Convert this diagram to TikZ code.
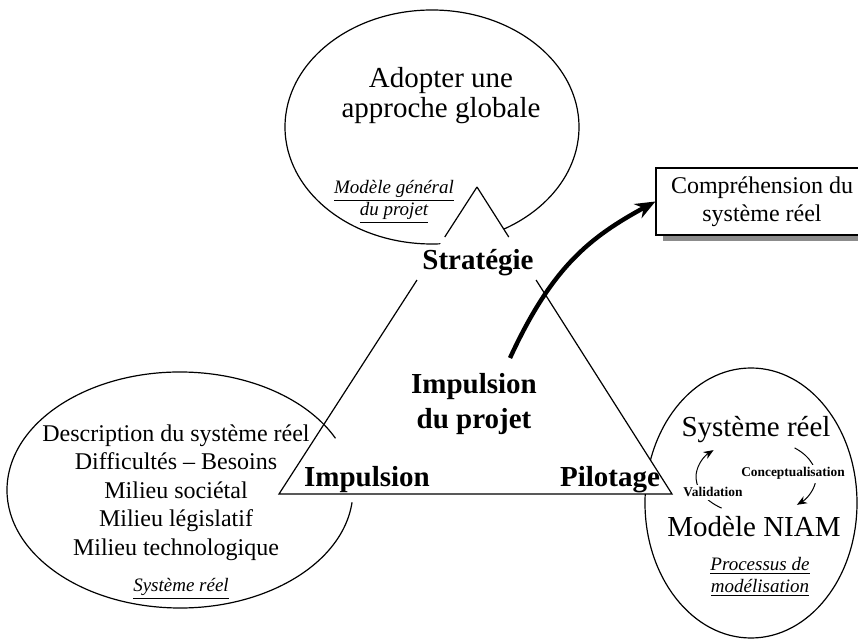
\documentclass[tikz,border=0pt]{standalone}
\usepackage{fontspec}
\setmainfont{Liberation Serif}
\usetikzlibrary{calc}
\usetikzlibrary{arrows.meta}
\usetikzlibrary{shadows}
\tikzset{
  bubble/.style={draw, line width=0.6pt},
  side/.style={line width=0.6pt},
  bigtxt/.style={font=\fontsize{14.5}{15}\selectfont, align=center, inner sep=0pt},
  listtxt/.style={font=\fontsize{12}{14.3}\selectfont, align=center, inner sep=0pt},
  pole/.style={font=\fontsize{14.5}{17.5}\selectfont\bfseries, align=center, inner sep=0pt},
  legend/.style={font=\fontsize{9.5}{11}\selectfont\itshape, align=center, inner sep=0pt},
  cyclbl/.style={font=\fontsize{6.7}{8}\selectfont\bfseries, fill=white, inner sep=1.5pt},
  cycarrow/.style={-{Stealth[length=5pt,width=4pt]}, line width=0.5pt},
  bigarrow/.style={-{Stealth[length=10pt,width=8pt]}, line width=2.2pt},
  resultbox/.style={draw, line width=0.6pt, fill=white, minimum width=106pt, minimum height=33.5pt,
    inner sep=0pt, align=center, font=\fontsize{12}{14}\selectfont,
    drop shadow={shadow xshift=3.5pt, shadow yshift=-3pt, fill=black!45, opacity=1}}
}

\begin{document}
\begin{tikzpicture}[x=0.5pt, y=-0.5pt]
	\useasboundingbox (0,0) rectangle (858,641);
	\clip (0,0) rectangle (858,641);
	\draw[bubble] (432,127) ellipse [x radius=147, y radius=117];
	\draw[bubble] (751,503) ellipse [x radius=106, y radius=135];
	\coordinate (apex) at (477,187);
	\coordinate (lc) at (279,494);
	\coordinate (rc) at (672,494);
	\fill[white] (apex) -- (lc) -- (rc) -- cycle;
	\draw[side] (apex) -- ($(apex)!0.163!(lc)$);
	\draw[side] ($(apex)!0.303!(lc)$) -- (lc) -- (rc) -- ($(apex)!0.303!(rc)$);
	\draw[side] ($(apex)!0.163!(rc)$) -- (apex);
	\draw[bubble] (180,490) ++(6:173 and 118) arc [start angle=6, end angle=334, x radius=173, y radius=118];
	\node[bigtxt, anchor=north] (goal) at (441,67) {Adopter une\\approche globale};
	\node[legend, anchor=north] (modgen) at (394,180) {\underline{Modèle général}\\\underline{du projet}};
	\node[pole, anchor=base] (strat) at (478,270) {Stratégie};
	\node[pole, anchor=north] (proj) at (474,373) {Impulsion\\du projet};
	\node[pole, anchor=base] (imp) at (367,487) {Impulsion};
	\node[pole, anchor=base] (pil) at (610,487) {Pilotage};
	\node[listtxt, anchor=north] (desc) at (176,424) {Description du système réel\\Difficultés -- Besoins\\Milieu sociétal\\Milieu législatif\\Milieu technologique};
	\node[legend, anchor=base] (sysleg) at (181,592) {\underline{Système réel}};
	\node[resultbox] (box) at (762,201.5) {Compréhension du\\système réel};
	\node[bigtxt, anchor=base] (sysr) at (756,437) {Système réel};
	\node[bigtxt, anchor=base] (niam) at (754,537) {Modèle NIAM};
	\draw[cycarrow] ($(sysr.base)+(38.6,10.9)$) arc [start angle=-50, end angle=47, x radius=60, y radius=38];
	\draw[cycarrow] ($(niam.base)+(-32.4,-28.9)$) arc [start angle=125, end angle=225, x radius=60, y radius=38];
	\node[cyclbl, anchor=base] (concept) at (793,477) {Conceptualisation};
	\node[cyclbl, anchor=base] (valid) at (713,497) {Validation};
	\node[legend, anchor=north] (procleg) at (760,557) {\underline{Processus de}\\\underline{modélisation}};
	\draw[bigarrow] ([xshift=18pt,yshift=7.5pt]proj.north) .. controls +(42,-91) and +(-66,36) .. (box.west);
\end{tikzpicture}
\end{document}
